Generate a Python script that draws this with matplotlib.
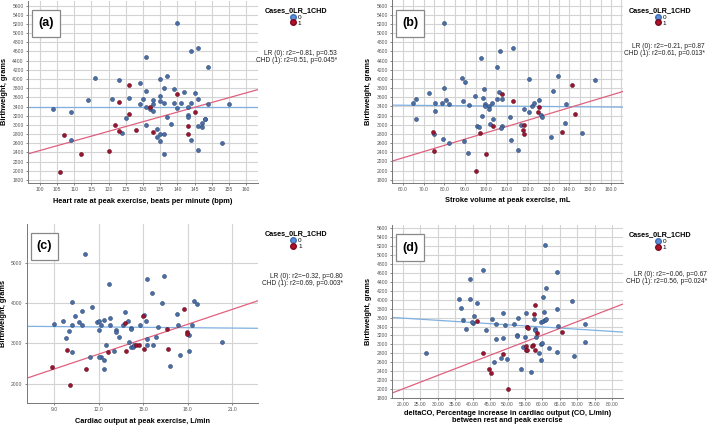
import matplotlib
matplotlib.use("Agg")
import matplotlib.pyplot as plt
from matplotlib.lines import Line2D
from matplotlib.patches import Rectangle
from matplotlib.ticker import MultipleLocator, FuncFormatter

plt.rcParams["font.family"] = ["Liberation Sans", "DejaVu Sans"]

# ── Data ──────────────────────────────────────────────────────────────────────
# (a) heart rate at peak exercise (bpm) vs birthweight (g)
A_LR_X = [104, 109, 109, 116, 114, 121, 123, 126, 125, 124, 129, 130, 129, 131, 131,
          131, 131, 132, 133, 133, 133, 134, 134, 135, 135, 135, 135, 135, 136, 136,
          136, 136, 137, 137, 138, 139, 139, 140, 140, 141, 142, 143, 143, 143, 144,
          144, 144, 145, 146, 146, 146, 146, 147, 147, 148, 148, 149, 149, 153, 155]
A_LR_Y = [3340, 3275, 2675, 4020, 3550, 3555, 3970, 3580, 3160, 2820, 3920, 3565, 3450, 4470, 3730,
          3400, 2990, 3350, 3545, 3465, 3305, 2910, 2730, 4005, 3620, 3530, 2810, 2650, 3810, 3470,
          2810, 2370, 4055, 3180, 3030, 3790, 3480, 5225, 3370, 3480, 3710, 3390, 3210, 3165, 4620,
          3470, 2680, 3690, 4670, 3555, 2980, 2450, 3040, 2950, 3130, 3120, 4270, 3450, 2600, 3455]
A_CHD_X = [106, 107, 112, 120, 122, 123, 123, 126, 126, 128, 132, 133, 140, 143, 143, 145]
A_CHD_Y = [1980, 2790, 2360, 2430, 2990, 3505, 2860, 3870, 3240, 2880, 3380, 2840, 3680, 2970, 2810, 3280]

# (b) stroke volume at peak exercise (mL)
B_LR_X = [65.0, 66.4, 66.4, 72.5, 75.5, 75.5, 75.0, 79.0, 80.0, 80.8, 82.1, 79.2, 82.0, 79.7, 88.6,
          90.1, 88.8, 92.0, 89.3, 91.2, 94.7, 97.4, 98.7, 99.2, 99.4, 99.4, 101.4, 101.4, 95.7, 96.8,
          98.2, 101.9, 103.0, 103.5, 105.1, 105.1, 106.6, 106.2, 107.7, 107.7, 107.2, 113.0, 111.7, 112.2, 115.5,
          116.8, 118.1, 120.5, 120.6, 121.9, 123.2, 125.4, 126.6, 126.7, 132.0, 131.4, 134.7, 138.2, 138.1, 145.9,
          152.2]
B_LR_Y = [3477, 3557, 3130, 3687, 3470, 3310, 2800, 3477, 3810, 3535, 3456, 2683, 2600, 5225, 4019,
          3925, 3528, 3441, 2640, 2373, 3622, 4466, 3578, 3788, 3448, 3398, 3398, 3350, 2980, 2943,
          3181, 3022, 3470, 3123, 4264, 3557, 4618, 3708, 3557, 2980, 2921, 4669, 3160, 2675, 2452,
          2986, 3340, 3282, 4004, 3405, 3470, 3549, 3217, 3167, 3737, 2734, 4055, 3448, 3037, 2820,
          3968]
B_CHD_X = [74.4, 75.0, 95.4, 97.1, 100.2, 103.4, 107.7, 113.1, 117.9, 118.4, 118.4, 124.8, 125.6, 136.6, 141.3, 142.7]
B_CHD_Y = [2842, 2423, 1983, 2813, 2365, 2972, 3680, 3513, 2893, 2986, 2800, 3282, 3383, 2850, 3860, 3239]

# (c) cardiac output at peak exercise (L/min)
C_LR_X = [8.98, 9.58, 10.19, 10.39, 10.68, 10.88, 10.19, 10.88, 9.99, 9.79, 10.19, 11.09, 11.58, 12.68, 11.87,
          12.0, 12.05, 12.16, 12.39, 12.77, 12.77, 12.5, 12.16, 12.03, 12.36, 12.36, 11.4, 13.17, 13.17, 13.35,
          13.04, 13.78, 13.96, 13.67, 14.16, 14.16, 14.07, 14.16, 14.29, 14.4, 14.79, 15.08, 15.19, 15.28, 15.59,
          16.38, 16.27, 15.28, 15.28, 15.68, 15.89, 15.98, 17.28, 17.37, 16.78, 17.48, 18.06, 18.06, 18.26, 18.44,
          18.65, 20.28]
C_LR_Y = [3471, 3554, 4017, 3686, 3537, 3802, 3455, 3446, 3306, 3124, 2794, 5215, 3909, 4463, 3529,
          3554, 3331, 3446, 3570, 3620, 3446, 2959, 2653, 2653, 2587, 2364, 2670, 3331, 3281, 3165,
          2810, 3777, 3562, 3446, 3380, 3347, 3025, 2917, 2901, 2959, 3463, 3711, 3562, 4603, 4256,
          4661, 4008, 3116, 2967, 2967, 3149, 3397, 3727, 3463, 2438, 2719, 3198, 2818, 3446, 4058,
          3975, 3025]
C_CHD_X = [8.89, 9.9, 10.1, 11.18, 12.66, 13.76, 13.87, 14.52, 14.74, 14.97, 15.06, 16.58, 16.67, 17.75, 17.93, 17.97]
C_CHD_Y = [2422, 2835, 1967, 2356, 2785, 3496, 2810, 2967, 2967, 3678, 2868, 3364, 2851, 3860, 3273, 3231]

# (d) deltaCO, % increase in cardiac output rest -> peak
D_LR_X = [60.8, 43.0, 39.2, 64.3, 36.2, 39.1, 36.6, 41.2, 61.1, 60.1, 68.6, 64.1, 40.5, 37.2, 40.0,
          39.8, 38.2, 43.8, 45.6, 48.8, 46.8, 49.4, 52.0, 53.0, 55.3, 57.6, 60.4, 59.7, 60.2, 60.7,
          61.2, 58.0, 58.0, 55.5, 58.2, 64.6, 72.2, 72.4, 46.8, 48.6, 52.7, 52.7, 55.0, 54.5, 59.7,
          59.9, 61.9, 59.0, 59.5, 64.2, 69.2, 48.0, 49.8, 46.2, 53.9, 56.8, 26.6]
D_LR_Y = [5220, 4661, 4468, 4617, 4021, 4013, 3812, 3924, 4259, 4058, 3969, 3790, 3633, 3537, 3477,
          3492, 3343, 3313, 3559, 3693, 3462, 3440, 3455, 3581, 3715, 3566, 3730, 3492, 3522, 3552,
          3566, 3343, 3313, 3388, 3164, 3417, 3455, 3045, 3127, 3134, 3209, 3179, 3164, 2948, 3000,
          3030, 2911, 2814, 2658, 2829, 2740, 2687, 2680, 2598, 2457, 2382, 2807]
D_CHD_X = [41.1, 58.0, 57.7, 55.6, 55.9, 58.4, 65.7, 57.2, 57.0, 55.2, 55.3, 55.5, 57.9, 43.0, 48.6, 44.7, 45.3, 50.2]
D_CHD_Y = [3514, 3872, 3686, 3388, 3373, 3253, 3283, 2985, 2970, 2970, 2866, 2881, 2881, 2807, 2792, 2442, 2360, 2002]

# fit lines (slope, intercept) as drawn in the figure
LR_FITS = [(0.0, 3400), (-0.398, 3449), (-3.14, 3443), (-4.95, 3688)]
CHD_FITS = [(20.96, 345), (13.71, 1453), (123.5, 1248), (30.05, 1405)]

STATS = [("LR (0): r2=\u22120.81, p=0.53", "CHD (1): r2=0.51, p=0.045*"),
         ("LR (0): r2=\u22120.21, p=0.87", "CHD (1): r2=0.61, p=0.013*"),
         ("LR (0): r2=\u22120.32, p=0.80", "CHD (1): r2=0.69, p=0.003*"),
         ("LR (0): r2=\u22120.06, p=0.67", "CHD (1): r2=0.56, p=0.024*")]
PANEL_TAGS = ["(a)", "(b)", "(c)", "(d)"]
X_LABELS = ["Heart rate at peak exercise, beats per minute (bpm)",
            "Stroke volume at peak exercise, mL",
            "Cardiac output at peak exercise, L/min",
            "deltaCO, Percentage increase in cardiac output (CO, L/min)\nbetween rest and peak exercise"]
Y_LABEL = "Birthweight, grams"
LEGEND_TITLE = "Cases_0LR_1CHD"

# ── Style ─────────────────────────────────────────────────────────────────────
BLUE_PT = "#4a6fa8"
BLUE_EDGE = "#2c4670"
RED_PT = "#9c1530"
RED_EDGE = "#5e0a1c"
BLUE_LINE = "#7fb0e0"
RED_LINE = "#e0607e"
GRID = "#d4d4d4"

fig = plt.figure(figsize=(7.09, 4.25), dpi=100)

H, W = 425.0, 709.0
# pixel boxes: left, top, right, bottom
boxes = [(28, 0.5, 258, 183), (392.3, 0.5, 622.7, 182.7),
         (26.7, 224, 258.3, 403.3), (392.3, 225, 622.7, 398)]
xlims = [(96.6, 163.4), (55.0, 165.6), (7.16, 22.75), (16.9, 83.1)]
ylims = [(1735, 5710), (1735, 5710), (1510, 5960), (1800, 5675)]
xmaj = [5, 10, 3, 5]
xfmt = ["{:.0f}", "{:.1f}", "{:.1f}", "{:.2f}"]
ymaj = [200, 200, 1000, 200]
xlabelpad = [4, 4, 4, 2]
stat_pos = [(337, 57), (705, 50), (343, 280), (707, 278)]

data = [(A_LR_X, A_LR_Y, A_CHD_X, A_CHD_Y), (B_LR_X, B_LR_Y, B_CHD_X, B_CHD_Y),
        (C_LR_X, C_LR_Y, C_CHD_X, C_CHD_Y), (D_LR_X, D_LR_Y, D_CHD_X, D_CHD_Y)]

for i, (l, t, r, b) in enumerate(boxes):
    ax = fig.add_axes([l / W, 1 - b / H, (r - l) / W, (b - t) / H])
    lx, ly, cx, cy = data[i]

    ax.set_xlim(*xlims[i])
    ax.set_ylim(*ylims[i])
    ax.xaxis.set_major_locator(MultipleLocator(xmaj[i]))
    ax.yaxis.set_major_locator(MultipleLocator(ymaj[i]))
    if i == 1:
        ax.xaxis.set_minor_locator(MultipleLocator(5))
        ax.grid(True, which="minor", axis="x", color=GRID, linewidth=0.8)
    ax.xaxis.set_major_formatter(FuncFormatter(lambda v, p, f=xfmt[i]: f.format(v)))
    ax.grid(True, which="major", color=GRID, linewidth=0.8)
    ax.set_axisbelow(True)
    ax.tick_params(labelsize=3.6, colors="#555555", length=1.5, width=0.5, pad=1.5)
    ax.tick_params(which="minor", length=0)
    for s in ["top", "right"]:
        ax.spines[s].set_visible(False)
    for s in ["left", "bottom"]:
        ax.spines[s].set_color("#777777")
        ax.spines[s].set_linewidth(0.7)

    ax.axline((0, LR_FITS[i][1]), slope=LR_FITS[i][0], color=BLUE_LINE, linewidth=0.9, zorder=2)
    ax.axline((0, CHD_FITS[i][1]), slope=CHD_FITS[i][0], color=RED_LINE, linewidth=0.9, zorder=2)

    ax.scatter(lx, ly, s=8, color=BLUE_PT, edgecolors=BLUE_EDGE, linewidths=0.4, zorder=3)
    ax.scatter(cx, cy, s=8, color=RED_PT, edgecolors=RED_EDGE, linewidths=0.4, zorder=3)

    ax.set_xlabel(X_LABELS[i], fontsize=5.3, fontweight="bold", labelpad=xlabelpad[i],
                  linespacing=0.95)
    ax.set_ylabel(Y_LABEL, fontsize=5.3, fontweight="bold", labelpad=3)

    # panel tag in a white box
    fig.add_artist(Rectangle(((l + 4) / W, 1 - (t + 36) / H), 27.6 / W, 26.7 / H,
                             transform=fig.transFigure, facecolor="white",
                             edgecolor="#888888", linewidth=0.9))
    fig.text((l + 17.8) / W, 1 - (t + 22.5) / H, PANEL_TAGS[i], fontsize=9, fontweight="bold",
             ha="center", va="center")

    handles = [Line2D([0], [0], color=BLUE_LINE, marker="o", markersize=4,
                      markerfacecolor="#5d8fd8", markeredgecolor="#3d6fb8", linewidth=0.8),
               Line2D([0], [0], color=RED_LINE, marker="o", markersize=4,
                      markerfacecolor="#b0102c", markeredgecolor="#7a0a1e", linewidth=0.8)]
    leg = ax.legend(handles, ["0", "1"], title=LEGEND_TITLE, loc="upper left",
                    bbox_to_anchor=((r + 2) / W, 1 - (t + 2) / H), bbox_transform=fig.transFigure,
                    frameon=False, fontsize=4.6, title_fontsize=5.2, handlelength=0.9,
                    handletextpad=0.3, labelspacing=0.05, borderpad=0.2, alignment="center")
    leg.get_title().set_fontweight("bold")

    sx, sy = stat_pos[i]
    fig.text(sx / W, 1 - sy / H, STATS[i][0] + "\n" + STATS[i][1], fontsize=4.8,
             ha="right", va="center", linespacing=1.0, color="#222222")

fig.savefig("out.png", dpi=100)
